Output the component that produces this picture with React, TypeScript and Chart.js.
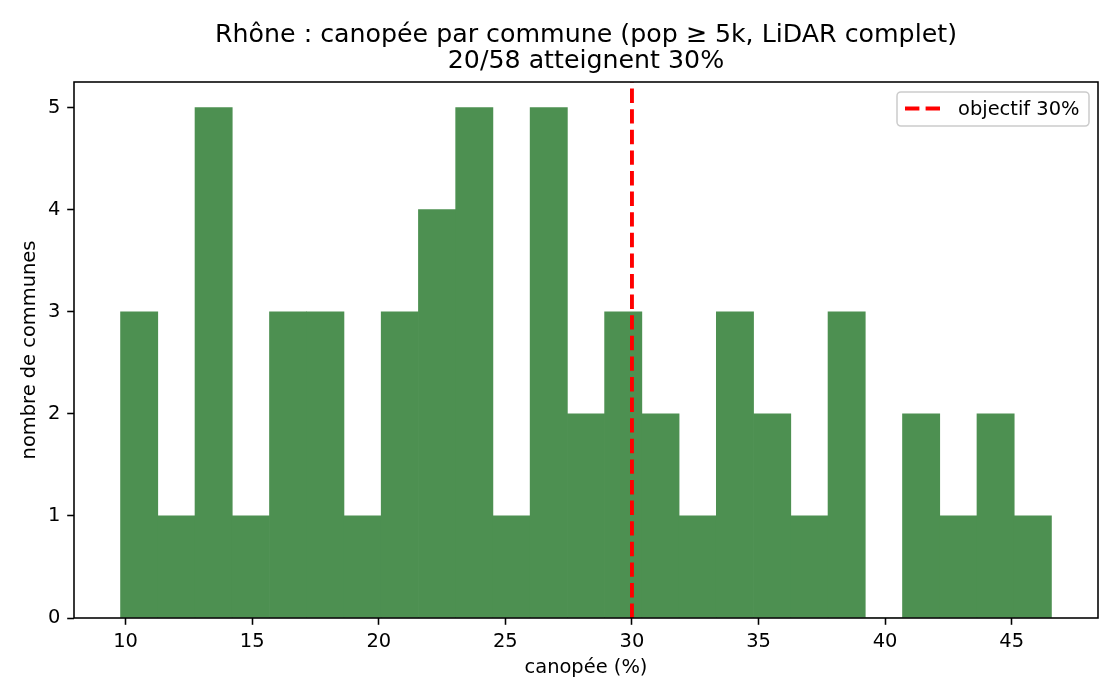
import { useEffect, useRef } from 'react';
import { Chart, registerables } from 'chart.js';

Chart.register(...registerables);

// histogram: 25 bins between the min and max canopy share
const binStart = 9.8;
const binWidth = 1.4708;
const communeCounts = [3, 1, 5, 1, 3, 3, 1, 3, 4, 5, 1, 5, 2, 3, 2, 1, 3, 2, 1, 3, 0, 2, 1, 2, 1];
const xTickValues = [10, 15, 20, 25, 30, 35, 40, 45];
const yTickValues = [0, 1, 2, 3, 4, 5];
const targetValue = 30;

const titleLines = ['Rhône : canopée par commune (pop ≥ 5k, LiDAR complet)', '20/58 atteignent 30%'];
const xLabel = 'canopée (%)';
const yLabel = 'nombre de communes';
const legendLabel = 'objectif 30%';

const FONT = '"DejaVu Sans", "Liberation Sans", sans-serif';
const BAR_COLOR = 'rgb(77, 144, 81)';
const LINE_COLOR = '#ff0000';
const DASH = [14.4, 6.2];
const TEXT_SIZE = 19.44;
const TITLE_SIZE = 25.28;

const binEnd = binStart + communeCounts.length * binWidth;
const margin = (binEnd - binStart) * 0.05;
const xMin = binStart - margin;
const xMax = binEnd + margin;
const yMax = 5.25;

const decorPlugin = {
    id: 'decor',
    afterDraw(chart: Chart) {
        const { ctx, chartArea: a } = chart;
        ctx.save();

        // axes frame
        ctx.strokeStyle = '#000';
        ctx.lineWidth = 1.56;
        ctx.strokeRect(a.left, a.top, a.right - a.left, a.bottom - a.top);

        const cx = (a.left + a.right) / 2;
        ctx.fillStyle = '#000';
        ctx.textAlign = 'center';
        ctx.textBaseline = 'alphabetic';
        ctx.font = `${TITLE_SIZE}px ${FONT}`;
        ctx.fillText(titleLines[0], cx, 41.7);
        ctx.fillText(titleLines[1], cx, 68.3);

        ctx.font = `${TEXT_SIZE}px ${FONT}`;
        ctx.fillText(xLabel, cx, 673);
        ctx.save();
        ctx.translate(35, (a.top + a.bottom) / 2);
        ctx.rotate(-Math.PI / 2);
        ctx.fillText(yLabel, 0, 0);
        ctx.restore();

        // legend, top right
        ctx.beginPath();
        ctx.roundRect(897, 92, 192, 34, 3.9);
        ctx.fillStyle = 'rgba(255,255,255,0.8)';
        ctx.fill();
        ctx.strokeStyle = '#cccccc';
        ctx.lineWidth = 1.5;
        ctx.stroke();

        ctx.beginPath();
        ctx.setLineDash(DASH);
        ctx.lineCap = 'butt';
        ctx.strokeStyle = LINE_COLOR;
        ctx.lineWidth = 3.9;
        ctx.moveTo(905, 108.5);
        ctx.lineTo(940, 108.5);
        ctx.stroke();
        ctx.setLineDash([]);

        ctx.fillStyle = '#000';
        ctx.textAlign = 'left';
        ctx.fillText(legendLabel, 958, 115);
        ctx.restore();
    },
};

export default function App() {
    const canvasRef = useRef<HTMLCanvasElement | null>(null);

    useEffect(() => {
        if (!canvasRef.current) {
            return;
        }

        const tickFont = { family: FONT, size: TEXT_SIZE };
        const axisGrid = {
            display: true,
            drawOnChartArea: false,
            drawTicks: true,
            tickLength: 6.8,
            tickWidth: 1.56,
            tickColor: '#000',
            offset: false,
        };

        const chart = new Chart(canvasRef.current, {
            type: 'bar',
            data: {
                datasets: [
                    {
                        type: 'line',
                        label: legendLabel,
                        data: [{ x: targetValue, y: 0 }, { x: targetValue, y: yMax }],
                        borderColor: LINE_COLOR,
                        borderWidth: 3.9,
                        borderDash: DASH,
                        borderCapStyle: 'butt',
                        pointRadius: 0,
                        fill: false,
                        tension: 0,
                        order: 0,
                    },
                    {
                        type: 'bar',
                        label: 'communes',
                        data: communeCounts.map((count, i) => ({ x: binStart + (i + 0.5) * binWidth, y: count })),
                        backgroundColor: BAR_COLOR,
                        borderWidth: 0,
                        barPercentage: 1,
                        categoryPercentage: 1,
                        order: 1,
                    },
                ],
            },
            options: {
                responsive: false,
                animation: false,
                devicePixelRatio: 1,
                layout: { padding: { top: 82, right: 22, left: 0, bottom: 0 } },
                plugins: {
                    legend: { display: false },
                    tooltip: { enabled: false },
                    title: { display: false },
                },
                scales: {
                    x: {
                        type: 'linear',
                        min: xMin,
                        max: xMax,
                        offset: false,
                        grid: axisGrid,
                        border: { display: false },
                        ticks: {
                            font: tickFont,
                            color: '#000',
                            padding: 5,
                            maxRotation: 0,
                            autoSkip: false,
                            callback: (value) => String(value),
                        },
                        afterBuildTicks: (scale) => {
                            scale.ticks = xTickValues.map((value) => ({ value }));
                        },
                        afterFit: (scale) => {
                            scale.height = 82;
                        },
                    },
                    y: {
                        type: 'linear',
                        min: 0,
                        max: yMax,
                        grid: axisGrid,
                        border: { display: false },
                        ticks: {
                            font: tickFont,
                            color: '#000',
                            padding: 6.8,
                            autoSkip: false,
                            callback: (value) => String(value),
                        },
                        afterBuildTicks: (scale) => {
                            scale.ticks = yTickValues.map((value) => ({ value }));
                        },
                        afterFit: (scale) => {
                            scale.width = 74;
                        },
                    },
                },
            },
            plugins: [decorPlugin],
        });

        return () => chart.destroy();
    }, []);

    return (
        <div style={{ position: 'fixed', left: 0, top: 0, width: 1120, height: 700, background: '#fff' }}>
            <canvas ref={canvasRef} width={1120} height={700} style={{ display: 'block' }} />
        </div>
    );
}
